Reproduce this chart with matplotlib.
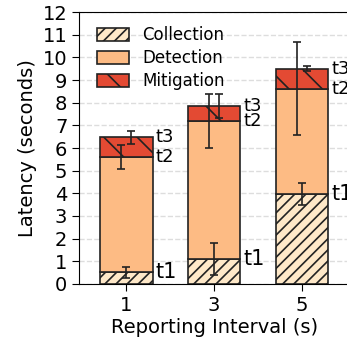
import numpy as np
import matplotlib
matplotlib.use('Agg')
import matplotlib.pyplot as plt

# data
intervals = ['1', '3', '5']
collection = [0.51, 1.10, 3.96]
detection = [5.10, 6.10, 4.66]    # stacked on top of collection
mitigation = [0.86, 0.67, 0.88]   # stacked on top of detection
collection_err = [0.25, 0.72, 0.48]
detection_err = [0.53, 1.18, 2.05]
mitigation_err = [0.29, 0.53, 0.12]

c_col = '#fee8c8'
c_det = '#fdbb84'
c_mit = '#e34a33'

plt.rcParams['hatch.linewidth'] = 1.2
fig = plt.figure(figsize=(3.47, 3.45), dpi=100)
ax = fig.add_axes([0.228, 0.177, 0.778, 0.788])

x = np.arange(len(intervals))
w = 0.6
col = np.array(collection)
det_top = col + np.array(detection)
mit_top = det_top + np.array(mitigation)

ax.bar(x, collection, w, color=c_col, edgecolor='#222222', lw=1.2, hatch='///', label='Collection', zorder=3)
ax.bar(x, detection, w, bottom=col, color=c_det, edgecolor='#222222', lw=1.2, label='Detection', zorder=3)
ax.bar(x, mitigation, w, bottom=det_top, color=c_mit, edgecolor='#222222', lw=1.2, hatch='\\', label='Mitigation', zorder=3)

ekw = dict(fmt='none', ecolor='#222222', elinewidth=1.2, capsize=3, capthick=1.2, zorder=4)
ax.errorbar(x, col, yerr=collection_err, **ekw)
ax.errorbar(x - 0.06, det_top, yerr=detection_err, **ekw)
ax.errorbar(x + 0.06, mit_top, yerr=mitigation_err, **ekw)

for i in range(len(x)):
    ax.text(x[i] + w / 2 + 0.03, col[i], 't1', fontsize=15, va='center', ha='left')
    ax.text(x[i] + w / 2 + 0.03, det_top[i], 't2', fontsize=13, va='center', ha='left')
    ax.text(x[i] + w / 2 + 0.03, mit_top[i], 't3', fontsize=13, va='center', ha='left')

ax.set_xlim(-0.534, 2.534)
ax.set_ylim(0, 12)
ax.set_yticks(range(0, 13))
ax.set_xticks(x)
ax.set_xticklabels(intervals)
ax.tick_params(labelsize=14, length=5)
ax.yaxis.grid(True, ls='--', color='#dddddd', lw=1, zorder=0)
ax.set_axisbelow(True)
ax.set_xlabel('Reporting Interval (s)', fontsize=14, labelpad=2)
ax.set_ylabel('Latency (seconds)', fontsize=14, labelpad=4)
ax.legend(loc='upper left', bbox_to_anchor=(0, 1.015), frameon=False, fontsize=12,
          handlelength=1.9, handleheight=0.8, handletextpad=0.8, borderaxespad=0.7,
          labelspacing=0.3)

fig.savefig('out.png', dpi=100)
